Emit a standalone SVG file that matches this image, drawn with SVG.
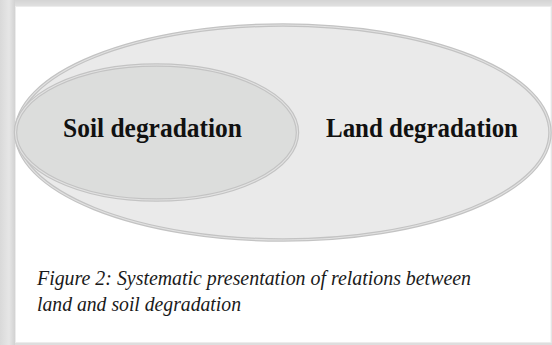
<svg xmlns="http://www.w3.org/2000/svg" width="552" height="345" viewBox="0 0 552 345">
  <defs>
    <linearGradient id="bgL" x1="0" y1="0" x2="1" y2="0">
      <stop offset="0" stop-color="#d9d9d9"/>
      <stop offset="0.6" stop-color="#e6e6e6"/>
      <stop offset="1" stop-color="#d2d2d2"/>
    </linearGradient>
    <linearGradient id="bgT" x1="0" y1="0" x2="0" y2="1">
      <stop offset="0" stop-color="#d4d4d4"/>
      <stop offset="1" stop-color="#e2e2e2"/>
    </linearGradient>
    <style>
      .ring { fill: none; stroke: #c3c3c3; stroke-width: 3.5; }
      .ringIn { fill: none; stroke: #e2e2e2; stroke-width: 1.1; }
      .lbl { font-family: "Liberation Serif", "Times New Roman", serif; font-weight: bold; font-size: 27px; fill: #111111; }
      .cap { font-family: "Liberation Serif", "Times New Roman", serif; font-style: italic; font-size: 20.5px; fill: #1a1a1a; }
    </style>
  </defs>
  <g id="frame">
    <rect x="0" y="0" width="552" height="345" fill="#dedede"/>
    <rect x="0" y="0" width="552" height="7" fill="url(#bgT)"/>
    <rect x="0" y="0" width="15" height="345" fill="url(#bgL)"/>
    <rect x="15.5" y="6.5" width="535.5" height="336" fill="#ffffff" stroke="#ececec" stroke-width="1"/>
  </g>
  <g id="land">
    <ellipse cx="283" cy="132.5" rx="267" ry="107.5" fill="#eaeaea"/>
    <ellipse class="ring" cx="283" cy="132.5" rx="267" ry="107.5"/>
    <ellipse class="ringIn" cx="283" cy="132.5" rx="267" ry="107.5"/>
    <text class="lbl" x="326" y="137" textLength="192" lengthAdjust="spacingAndGlyphs">Land degradation</text>
  </g>
  <g id="soil">
    <ellipse cx="156.5" cy="132.5" rx="141" ry="67.5" fill="#dcdddc"/>
    <ellipse class="ring" cx="156.5" cy="132.5" rx="141" ry="67.5"/>
    <ellipse class="ringIn" cx="156.5" cy="132.5" rx="141" ry="67.5"/>
    <text class="lbl" x="63" y="137" textLength="179" lengthAdjust="spacingAndGlyphs">Soil degradation</text>
  </g>
  <g id="connectors"/>
  <g id="caption">
    <text class="cap" x="37" y="285" textLength="434" lengthAdjust="spacingAndGlyphs">Figure 2: Systematic presentation of relations between</text>
    <text class="cap" x="37" y="311" textLength="204" lengthAdjust="spacingAndGlyphs">land and soil degradation</text>
  </g>
</svg>
